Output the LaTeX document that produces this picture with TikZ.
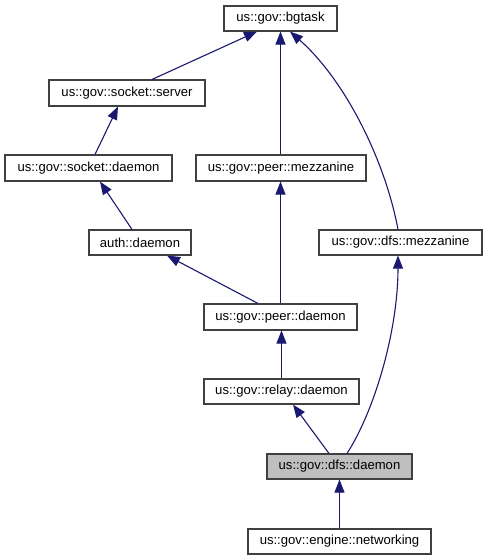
\documentclass[tikz,border=0pt]{standalone}
\usepackage{fontspec}
\setmainfont{Liberation Sans}
\usetikzlibrary{arrows.meta}
\definecolor{edgec}{RGB}{25,25,112}
\definecolor{boxc}{RGB}{64,64,64}
\definecolor{hl}{RGB}{191,191,191}
\begin{document}
\begin{tikzpicture}[x=1pt,y=-1pt,
  cls/.style={draw=boxc,line width=1.1pt,fill=white,inner sep=0pt,
    font=\fontsize{13.1}{15}\selectfont,text=black},
  edge/.style={draw=edgec,line width=1.1pt,-{Triangle[length=13pt,width=10pt]}}]
\useasboundingbox (0,0) rectangle (487,560);
\node[cls,minimum width=113pt,minimum height=25pt] (bgtask) at (280.5,18.5) {us::gov::bgtask};
\node[cls,minimum width=156pt,minimum height=26pt] (server) at (127,93) {us::gov::socket::server};
\node[cls,minimum width=167pt,minimum height=26pt] (sockd) at (88.5,168) {us::gov::socket::daemon};
\node[cls,minimum width=170pt,minimum height=26pt] (peermezz) at (281,168) {us::gov::peer::mezzanine};
\node[cls,minimum width=102pt,minimum height=25pt] (auth) at (140,242.5) {auth::daemon};
\node[cls,minimum width=163pt,minimum height=25pt] (dfsmezz) at (400.5,242.5) {us::gov::dfs::mezzanine};
\node[cls,minimum width=153pt,minimum height=26pt] (peerd) at (280.5,317) {us::gov::peer::daemon};
\node[cls,minimum width=155pt,minimum height=25pt] (relay) at (281.5,391.5) {us::gov::relay::daemon};
\node[cls,fill=hl,minimum width=145pt,minimum height=25pt] (dfsd) at (339.5,466.5) {us::gov::dfs::daemon};
\node[cls,minimum width=183pt,minimum height=25pt] (net) at (339.5,541.5) {us::gov::engine::networking};

\draw[edge] ([xshift=25pt]server.north) -- ([xshift=-23.5pt]bgtask.south);
\draw[edge] ([xshift=-0.5pt]peermezz.north) -- (bgtask.south);
\draw[edge] ([xshift=-2.5pt]dfsmezz.north) .. controls (385,160) and (345,80) .. ([xshift=9.5pt]bgtask.south);
\draw[edge] ([xshift=6.5pt]sockd.north) -- ([xshift=-9pt]server.south);
\draw[edge] ([xshift=-8pt]auth.north) -- ([xshift=11.5pt]sockd.south);
\draw[edge] ([xshift=-22.5pt]peerd.north) -- ([xshift=27pt]auth.south);
\draw[edge] (peerd.north) -- ([xshift=-0.5pt]peermezz.south);
\draw[edge] (relay.north) -- (relay.north |- peerd.south);
\draw[edge] ([xshift=-10.5pt]dfsd.north) -- ([xshift=11.5pt]relay.south);
\draw[edge] ([xshift=7.5pt]dfsd.north) .. controls (375,410) and (398,330) .. ([xshift=-2.5pt]dfsmezz.south);
\draw[edge] (net.north) -- (dfsd.south);
\end{tikzpicture}
\end{document}
